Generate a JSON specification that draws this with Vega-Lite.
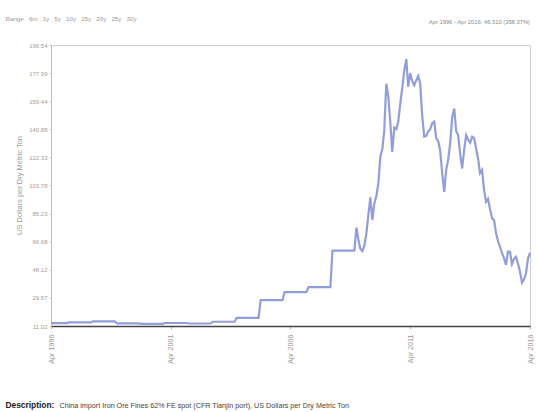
{
"$schema":"https://vega.github.io/schema/vega-lite/v6.json",
"width":479,"height":281,
"autosize":{"type":"none"},
"padding":{"left":51,"top":45,"right":7,"bottom":86},
"background":"white",
"config":{"font":"Liberation Sans","view":{"stroke":"#cfcfcf","strokeWidth":1}},
"title":{"text":"Apr 1996 - Apr 2016: 46.310 (358.37%)","anchor":"end","orient":"top","frame":"group","fontSize":5.8,"fontWeight":"normal","color":"#8a8a8a","dy":14},
"data":{"values":[
{"d":"1996-04","v":12.92},{"d":"1996-05","v":12.92},{"d":"1996-06","v":12.92},{"d":"1996-07","v":12.92},{"d":"1996-08","v":12.92},{"d":"1996-09","v":12.92},{"d":"1996-10","v":12.92},{"d":"1996-11","v":12.92},{"d":"1996-12","v":12.92},
{"d":"1997-01","v":13.4},{"d":"1997-02","v":13.4},{"d":"1997-03","v":13.4},{"d":"1997-04","v":13.4},{"d":"1997-05","v":13.4},{"d":"1997-06","v":13.4},{"d":"1997-07","v":13.4},{"d":"1997-08","v":13.4},{"d":"1997-09","v":13.4},{"d":"1997-10","v":13.4},{"d":"1997-11","v":13.4},{"d":"1997-12","v":13.4},
{"d":"1998-01","v":14.1},{"d":"1998-02","v":14.1},{"d":"1998-03","v":14.1},{"d":"1998-04","v":14.1},{"d":"1998-05","v":14.1},{"d":"1998-06","v":14.1},{"d":"1998-07","v":14.1},{"d":"1998-08","v":14.1},{"d":"1998-09","v":14.1},{"d":"1998-10","v":14.1},{"d":"1998-11","v":14.1},{"d":"1998-12","v":14.1},
{"d":"1999-01","v":12.7},{"d":"1999-02","v":12.7},{"d":"1999-03","v":12.7},{"d":"1999-04","v":12.7},{"d":"1999-05","v":12.7},{"d":"1999-06","v":12.7},{"d":"1999-07","v":12.7},{"d":"1999-08","v":12.7},{"d":"1999-09","v":12.7},{"d":"1999-10","v":12.7},{"d":"1999-11","v":12.7},{"d":"1999-12","v":12.7},
{"d":"2000-01","v":12.45},{"d":"2000-02","v":12.45},{"d":"2000-03","v":12.45},{"d":"2000-04","v":12.45},{"d":"2000-05","v":12.45},{"d":"2000-06","v":12.45},{"d":"2000-07","v":12.45},{"d":"2000-08","v":12.45},{"d":"2000-09","v":12.45},{"d":"2000-10","v":12.45},{"d":"2000-11","v":12.45},{"d":"2000-12","v":12.45},
{"d":"2001-01","v":13.0},{"d":"2001-02","v":13.0},{"d":"2001-03","v":13.0},{"d":"2001-04","v":13.0},{"d":"2001-05","v":13.0},{"d":"2001-06","v":13.0},{"d":"2001-07","v":13.0},{"d":"2001-08","v":13.0},{"d":"2001-09","v":13.0},{"d":"2001-10","v":13.0},{"d":"2001-11","v":13.0},{"d":"2001-12","v":13.0},
{"d":"2002-01","v":12.68},{"d":"2002-02","v":12.68},{"d":"2002-03","v":12.68},{"d":"2002-04","v":12.68},{"d":"2002-05","v":12.68},{"d":"2002-06","v":12.68},{"d":"2002-07","v":12.68},{"d":"2002-08","v":12.68},{"d":"2002-09","v":12.68},{"d":"2002-10","v":12.68},{"d":"2002-11","v":12.68},{"d":"2002-12","v":12.68},
{"d":"2003-01","v":13.82},{"d":"2003-02","v":13.82},{"d":"2003-03","v":13.82},{"d":"2003-04","v":13.82},{"d":"2003-05","v":13.82},{"d":"2003-06","v":13.82},{"d":"2003-07","v":13.82},{"d":"2003-08","v":13.82},{"d":"2003-09","v":13.82},{"d":"2003-10","v":13.82},{"d":"2003-11","v":13.82},{"d":"2003-12","v":13.82},
{"d":"2004-01","v":16.39},{"d":"2004-02","v":16.39},{"d":"2004-03","v":16.39},{"d":"2004-04","v":16.39},{"d":"2004-05","v":16.39},{"d":"2004-06","v":16.39},{"d":"2004-07","v":16.39},{"d":"2004-08","v":16.39},{"d":"2004-09","v":16.39},{"d":"2004-10","v":16.39},{"d":"2004-11","v":16.39},{"d":"2004-12","v":16.39},
{"d":"2005-01","v":28.11},{"d":"2005-02","v":28.11},{"d":"2005-03","v":28.11},{"d":"2005-04","v":28.11},{"d":"2005-05","v":28.11},{"d":"2005-06","v":28.11},{"d":"2005-07","v":28.11},{"d":"2005-08","v":28.11},{"d":"2005-09","v":28.11},{"d":"2005-10","v":28.11},{"d":"2005-11","v":28.11},{"d":"2005-12","v":28.11},
{"d":"2006-01","v":33.45},{"d":"2006-02","v":33.45},{"d":"2006-03","v":33.45},{"d":"2006-04","v":33.45},{"d":"2006-05","v":33.45},{"d":"2006-06","v":33.45},{"d":"2006-07","v":33.45},{"d":"2006-08","v":33.45},{"d":"2006-09","v":33.45},{"d":"2006-10","v":33.45},{"d":"2006-11","v":33.45},{"d":"2006-12","v":33.45},
{"d":"2007-01","v":36.63},{"d":"2007-02","v":36.63},{"d":"2007-03","v":36.63},{"d":"2007-04","v":36.63},{"d":"2007-05","v":36.63},{"d":"2007-06","v":36.63},{"d":"2007-07","v":36.63},{"d":"2007-08","v":36.63},{"d":"2007-09","v":36.63},{"d":"2007-10","v":36.63},{"d":"2007-11","v":36.63},{"d":"2007-12","v":36.63},
{"d":"2008-01","v":60.8},{"d":"2008-02","v":60.8},{"d":"2008-03","v":60.8},{"d":"2008-04","v":60.8},{"d":"2008-05","v":60.8},{"d":"2008-06","v":60.8},{"d":"2008-07","v":60.8},{"d":"2008-08","v":60.8},{"d":"2008-09","v":60.8},{"d":"2008-10","v":60.8},{"d":"2008-11","v":60.8},{"d":"2008-12","v":60.8},
{"d":"2009-01","v":76},{"d":"2009-02","v":68},{"d":"2009-03","v":62},{"d":"2009-04","v":60.5},{"d":"2009-05","v":64},{"d":"2009-06","v":72},{"d":"2009-07","v":84},{"d":"2009-08","v":96},{"d":"2009-09","v":81},{"d":"2009-10","v":92},{"d":"2009-11","v":97},{"d":"2009-12","v":105},
{"d":"2010-01","v":123},{"d":"2010-02","v":128},{"d":"2010-03","v":140},{"d":"2010-04","v":171},{"d":"2010-05","v":163},{"d":"2010-06","v":146},{"d":"2010-07","v":126},{"d":"2010-08","v":142},{"d":"2010-09","v":141},{"d":"2010-10","v":146},{"d":"2010-11","v":158},{"d":"2010-12","v":168},
{"d":"2011-01","v":180},{"d":"2011-02","v":187.18},{"d":"2011-03","v":169},{"d":"2011-04","v":178},{"d":"2011-05","v":173},{"d":"2011-06","v":170},{"d":"2011-07","v":173},{"d":"2011-08","v":176},{"d":"2011-09","v":171},{"d":"2011-10","v":150},{"d":"2011-11","v":136},{"d":"2011-12","v":136.5},
{"d":"2012-01","v":139.5},{"d":"2012-02","v":141},{"d":"2012-03","v":145},{"d":"2012-04","v":146},{"d":"2012-05","v":135},{"d":"2012-06","v":133},{"d":"2012-07","v":127},{"d":"2012-08","v":112},{"d":"2012-09","v":99.5},{"d":"2012-10","v":114},{"d":"2012-11","v":121},{"d":"2012-12","v":132},
{"d":"2013-01","v":149},{"d":"2013-02","v":154.6},{"d":"2013-03","v":140},{"d":"2013-04","v":137},{"d":"2013-05","v":125},{"d":"2013-06","v":115},{"d":"2013-07","v":127},{"d":"2013-08","v":137},{"d":"2013-09","v":134},{"d":"2013-10","v":132},{"d":"2013-11","v":136},{"d":"2013-12","v":135},
{"d":"2014-01","v":128},{"d":"2014-02","v":121},{"d":"2014-03","v":112},{"d":"2014-04","v":114},{"d":"2014-05","v":101},{"d":"2014-06","v":93},{"d":"2014-07","v":95},{"d":"2014-08","v":88},{"d":"2014-09","v":82},{"d":"2014-10","v":81},{"d":"2014-11","v":72},{"d":"2014-12","v":67},
{"d":"2015-01","v":63},{"d":"2015-02","v":59},{"d":"2015-03","v":56},{"d":"2015-04","v":51.4},{"d":"2015-05","v":60.2},{"d":"2015-06","v":60},{"d":"2015-07","v":51.9},{"d":"2015-08","v":55.3},{"d":"2015-09","v":56.7},{"d":"2015-10","v":52.2},{"d":"2015-11","v":46.8},{"d":"2015-12","v":39.6},
{"d":"2016-01","v":41.9},{"d":"2016-02","v":46.0},{"d":"2016-03","v":55.5},{"d":"2016-04","v":59.23}
]},
"layer":[
{"mark":{"type":"line","color":"#8593d6","strokeWidth":2.2,"opacity":0.9},
 "encoding":{
  "x":{"field":"d","type":"temporal",
   "scale":{"type":"utc","domain":[{"year":1996,"month":4,"date":1,"utc":true},{"year":2016,"month":4,"date":1,"utc":true}]},
   "axis":{"values":[{"year":1996,"month":4,"date":1,"utc":true},{"year":2001,"month":4,"date":1,"utc":true},{"year":2006,"month":4,"date":1,"utc":true},{"year":2011,"month":4,"date":1,"utc":true},{"year":2016,"month":4,"date":1,"utc":true}],
    "format":"%b %Y","labelAngle":-90,"labelFontSize":7.2,"labelColor":"#999999","labelPadding":5,"labelFlush":false,"labelOverlap":false,
    "tickColor":"#bbbbbb","tickSize":3,"domainColor":"#444444","domainWidth":1.5,"grid":false,
    "title":"China import Iron Ore Fines 62% FE spot (CFR Tianjin port), US Dollars per Dry Metric Ton",
    "titleX":8,"titleY":81,"titleAlign":"left","titleBaseline":"alphabetic","titleFontSize":7.2,"titleFontWeight":"normal","titleColor":"#444444"}},
  "y":{"field":"v","type":"quantitative",
   "scale":{"domain":[11.02,196.54],"nice":false,"zero":false},
   "axis":{"values":[11.02,29.57,48.12,66.68,85.23,103.78,122.33,140.88,159.44,177.99,196.54],"format":".2f",
    "labelFontSize":6,"labelColor":"#a0a0a0","labelPadding":2,"tickSize":2,"tickColor":"#cccccc","domainColor":"#bbbbbb","grid":false,
    "title":"US Dollars per Dry Metric Ton","titleX":-30,"titleY":140,"titleAngle":-90,"titleAlign":"center","titleBaseline":"alphabetic","titleFontSize":7.5,"titleFontWeight":"normal","titleColor":"#9a9a9a"}}
 }},
{"mark":{"type":"line","opacity":0},
 "encoding":{
  "x":{"field":"d","type":"temporal",
   "axis":{"orient":"top","labels":false,"ticks":false,"domain":false,"grid":false,
    "title":"Range\u00a0\u00a0\u00a06m\u00a0\u00a0\u00a01y\u00a0\u00a0\u00a05y\u00a0\u00a0\u00a010y\u00a0\u00a0\u00a015y\u00a0\u00a0\u00a020y\u00a0\u00a0\u00a025y\u00a0\u00a0\u00a030y","titleX":-46,"titleY":-25,"titleAlign":"left","titleBaseline":"alphabetic","titleFontSize":6.2,"titleFontWeight":"normal","titleColor":"#999999"}},
  "y":{"field":"v","type":"quantitative",
   "axis":{"orient":"right","labels":false,"ticks":false,"domain":false,"grid":false,
    "title":"Description:","titleAngle":0,"titleX":-525,"titleY":362,"titleAlign":"left","titleBaseline":"alphabetic","titleFontSize":8.4,"titleFontWeight":"bold","titleColor":"#222222"}}
 }}
],
"resolve":{"axis":{"x":"independent","y":"independent"}}
}
